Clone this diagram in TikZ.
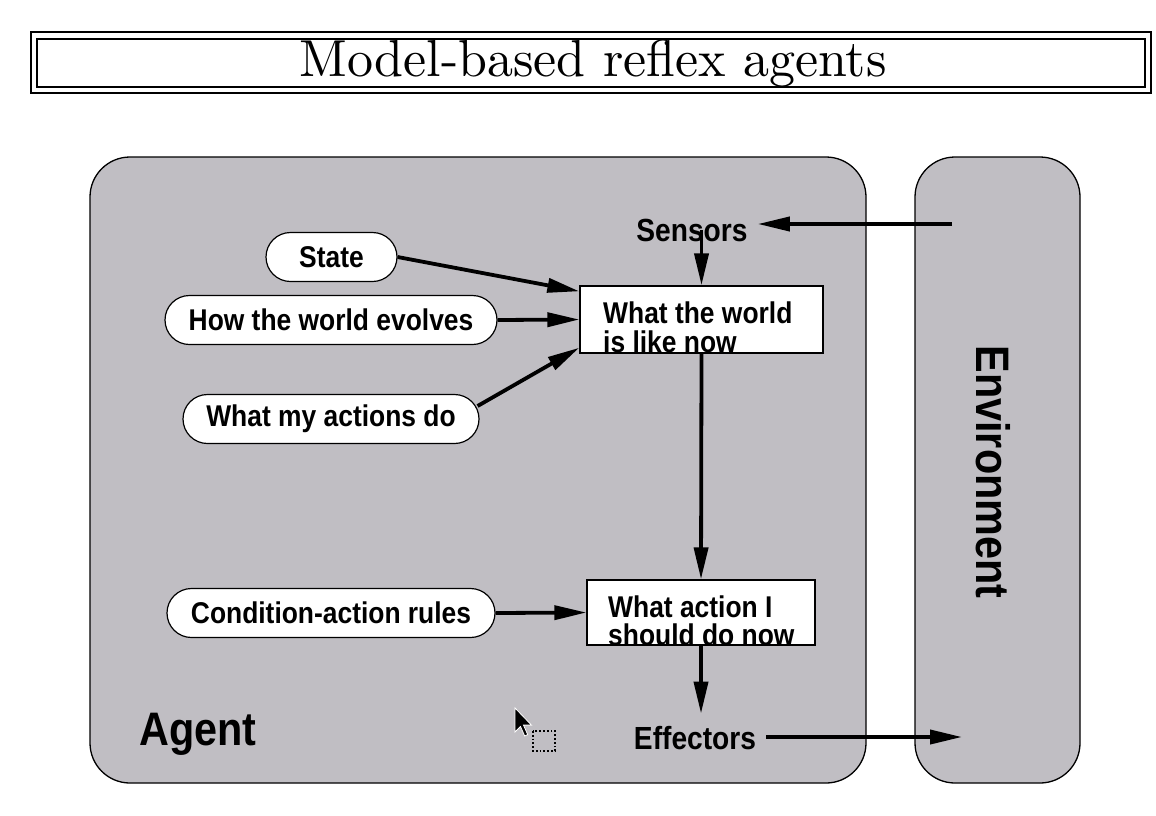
\documentclass[tikz,border=0pt]{standalone}
\usepackage{fontspec}
\newfontfamily\hv{Liberation Sans}[FakeStretch=0.88]
\newfontfamily\titlefont{lmroman10-regular.otf}
\usetikzlibrary{arrows.meta,shapes.misc,calc}
\definecolor{agentgray}{RGB}{192,190,195}
\begin{document}
\begin{tikzpicture}[x=1pt,y=-1pt,
  lbl/.style={font=\hv\bfseries\fontsize{30}{33}\selectfont, inner sep=0pt},
  midlbl/.style={font=\hv\bfseries\fontsize{32}{35}\selectfont, inner sep=0pt},
  biglbl/.style={font=\hv\bfseries\fontsize{47}{50}\selectfont, inner sep=0pt},
  oval/.style={draw, fill=white, rounded rectangle, line width=1.2pt, minimum height=49pt, inner sep=0pt, lbl},
  boxnode/.style={draw, fill=white, line width=1.3pt, inner sep=0pt},
  panel/.style={draw, fill=agentgray, line width=1.3pt, rounded corners=40pt, inner sep=0pt},
  flow/.style={line width=3.8pt, -{Triangle[length=32pt,width=14pt]}},
]
\useasboundingbox (0,0) rectangle (1156,815);
\fill[white] (0,0) rectangle (1156,815);

% title
\draw[line width=2.4pt] (31,32) rectangle (1151,93);
\draw[line width=1.4pt] (37,39) rectangle (1145,87);
\node[inner sep=0pt] (title) at (593,64) {\titlefont\fontsize{52}{60}\selectfont Model-based reflex agents};

% panels
\node[panel, minimum width=776pt, minimum height=626pt] (agent) at (478,470) {};
\node[panel, minimum width=165pt, minimum height=626pt] (env) at (997.5,470) {};
\node[biglbl, rotate=-90] (envlbl) at (993,472) {Environment};
\node[biglbl, anchor=base] (agentlbl) at (198,745) {Agent};

% labels
\node[midlbl, anchor=base] (sensors) at (692,241) {Sensors};
\node[midlbl, anchor=base] (effectors) at (695,749) {Effectors};

% ovals
\node[oval, minimum width=131pt] (state) at (331.5,257) {State};
\node[oval, minimum width=332pt] (evolves) at (331,320) {How the world evolves};
\node[oval, minimum width=296pt] (actions) at (331,419) {What my actions do};
\node[oval, minimum width=328pt] (rules) at (331,613) {Condition-action rules};

% boxes
\node[boxnode, minimum width=243pt, minimum height=67pt] (world) at (701.5,319.5) {};
\node[lbl, anchor=base west] (worldA) at (603,323) {What the world};
\node[lbl, anchor=base west] (worldB) at (603,352) {is like now};
\node[boxnode, minimum width=228pt, minimum height=65pt] (action) at (701,612.5) {};
\node[lbl, anchor=base west] (actionA) at (608,617) {What action I};
\node[lbl, anchor=base west] (actionB) at (608,645) {should do now};

\coordinate (envin) at (952,224);
\coordinate (envout) at (962,737);

% connectors
\draw[flow] (state.east) -- (world.167);
\draw[flow] (evolves.east) -- (world.west);
\draw[flow] ($(actions.east)+(-2,-13)$) -- (world.193);
\draw[flow] (sensors.center -| world.north) -- (world.north);
\draw[flow] (envin) -- ($(envin -| sensors.east)+(10,0)$);
\draw[flow] (world.south) -- (action.north);
\draw[flow] (rules.east) -- (action.west);
\draw[flow] (action.south) -- ($(effectors.north -| action.south)+(0,-12)$);
\draw[flow] ($(effectors.east |- envout)+(10,0)$) -- (envout);

% mouse cursor
\filldraw[fill=black, draw=white, line width=0.8pt] (515,708) -- ++(0,24) -- ++(5.5,-5.5) -- ++(4.2,9.5) -- ++(3,-1.4) -- ++(-4.2,-9.5) -- ++(8,0) -- cycle;
\draw[dotted, line width=1.8pt] (533,731) rectangle (555,751);
\end{tikzpicture}
\end{document}
